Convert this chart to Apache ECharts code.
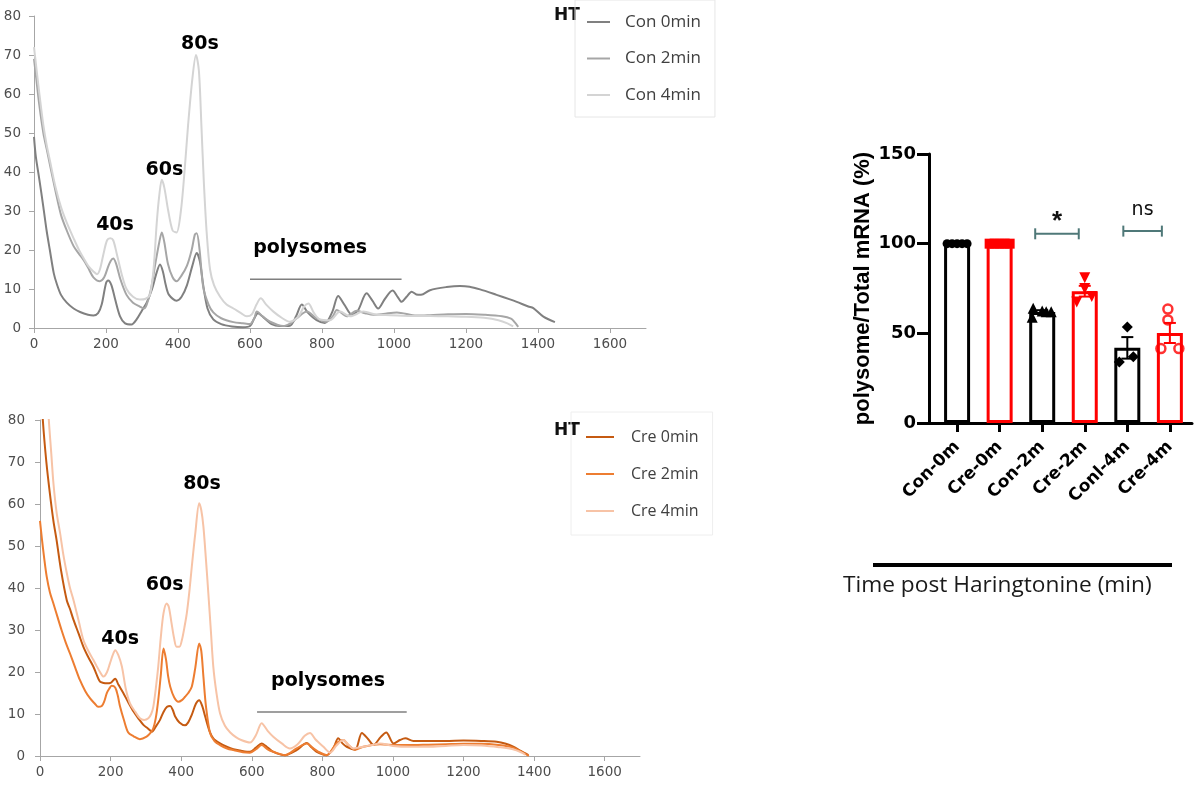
<!DOCTYPE html>
<html><head><meta charset="utf-8">
<script src="https://cdn.jsdelivr.net/npm/echarts@6/dist/echarts.min.js"></script>
<style>html,body{margin:0;padding:0;background:#fff}#c{width:1203px;height:788px}</style>
</head><body><div id="c"></div>
<script>
// ---------------- data ----------------
const conNames = ['Con 0min', 'Con 2min', 'Con 4min'];
const creNames = ['Cre 0min', 'Cre 2min', 'Cre 4min'];

const con0 = [[0,49],[5,44],[15,38],[26,31],[35,25],[44,20],[55,14],[63,11.4],[75,8.5],[91,6.5],[110,5],[128,4.1],[150,3.4],[165,3.2],[178,3.8],[188,6],[200,11.5],[206,12.2],[215,11],[225,7.5],[239,3],[253,1.2],[271,0.9],[285,2.2],[300,4.5],[313,6.5],[328,10],[340,14],[350,16.3],[358,14.5],[366,11],[375,8.5],[396,7],[410,8],[425,11],[440,16],[452,19.2],[461,17],[470,11],[482,5],[498,2.2],[520,1],[550,0.4],[580,0.2],[600,0.5],[612,2.5],[622,3.8],[640,2.5],[660,1],[683,0.5],[711,0.6],[728,3],[744,6],[760,4],[785,2],[808,1.3],[828,4],[845,8.2],[862,6],[883,3.4],[900,4.5],[924,8.9],[940,7],[956,5],[975,7.5],[996,9.6],[1010,8],[1021,6.7],[1035,8],[1049,9.3],[1062,8.6],[1075,8.5],[1100,9.7],[1146,10.5],[1183,10.8],[1210,10.6],[1239,9.9],[1285,8.5],[1320,7.4],[1341,6.7],[1373,5.5],[1387,5.1],[1415,2.9],[1447,1.5]];
const con2 = [[0,69],[5,65],[15,57],[26,50],[35,46],[44,42],[60,35],[75,29],[91,25],[110,21],[125,19],[137,17.5],[150,15.5],[165,13],[183,12],[195,13],[205,15.5],[213,17.2],[220,17.8],[228,16.5],[240,12.5],[257,8.5],[275,6.5],[294,5.5],[305,5],[313,6],[325,10],[338,17],[348,22],[355,24.5],[362,22],[372,16.5],[385,13],[396,12],[410,13.5],[425,16],[438,20],[447,24],[452,24.3],[460,20],[470,10.5],[485,6],[498,4],[520,2.5],[554,1.5],[580,1.2],[600,1],[612,2.5],[619,4.2],[635,3],[656,1.6],[692,0.5],[712,1.2],[730,2.5],[758,4.2],[785,2.5],[813,1.6],[830,3],[841,4.6],[855,3.8],[869,3],[896,4.4],[920,3.8],[943,3.4],[970,3.6],[1008,4],[1063,3.2],[1100,3.3],[1150,3.5],[1200,3.6],[1250,3.4],[1300,3],[1325,2.4],[1335,1.5],[1345,0.3]];
const con4 = [[0,72],[5,68],[15,60],[26,52],[35,47],[44,43],[60,36],[75,31],[91,27],[110,23],[125,20],[137,18],[150,16],[165,14.5],[175,13.8],[183,15],[193,19],[203,22.5],[212,23],[220,22.5],[230,19],[243,14],[257,10],[275,8],[294,7.3],[310,7.5],[322,8.5],[332,15],[341,27],[348,34],[355,38],[362,36],[373,30],[385,25],[396,24.5],[408,30],[418,40],[428,52],[440,64],[450,70],[458,66],[465,52],[472,37],[480,24],[489,15],[500,11],[517,8],[535,6],[554,5],[575,3.8],[591,3],[605,3.5],[618,6],[630,7.6],[645,6],[665,4.2],[690,2.5],[711,1.6],[735,3],[750,5.5],[762,6.3],[778,3.8],[794,2.2],[822,2],[850,4.2],[878,3],[915,4.2],[952,3.4],[990,3.3],[1050,3.1],[1100,3.1],[1150,3],[1200,2.9],[1250,2.6],[1290,2],[1315,1.2],[1331,0.4]];

const cre0 = [[0,92],[8,80],[18,70],[28,62.5],[38,56],[47,51.4],[60,44],[76,37],[85,35],[95,32.4],[110,29],[123,26],[137,23.5],[151,21.3],[160,19.5],[170,17.7],[180,17.4],[189,17.3],[200,17.4],[213,18.4],[222,17],[236,15],[250,12.8],[265,10.6],[280,8.8],[293,7.4],[305,6.6],[317,5.8],[328,7],[340,8.6],[350,10.5],[360,11.7],[369,11.9],[376,11],[383,9.4],[395,8],[411,7.3],[420,8],[430,9.8],[442,12.5],[451,13.3],[460,11.8],[468,9.4],[480,6],[491,4.2],[510,3],[529,2.2],[548,1.6],[567,1.3],[595,1],[612,2],[628,3],[645,2],[661,1],[694,0.2],[727,1.4],[756,3.1],[770,2],[784,1],[812,0.2],[831,1.8],[845,4.2],[857,3],[869,2.2],[893,1.5],[912,5.5],[930,4],[945,2.6],[965,4.5],[981,5.6],[1002,3],[1020,3.8],[1035,4.2],[1058,3.6],[1100,3.6],[1150,3.6],[1200,3.7],[1250,3.6],[1294,3.4],[1320,2.9],[1341,2.2],[1362,1.2],[1384,0.2]];
const cre2 = [[0,56],[5,52],[12,47],[19,42.7],[28,39],[38,36.3],[50,33],[61,30],[73,27],[85,24.4],[100,21],[113,18.1],[128,15.5],[142,13.7],[155,12.5],[165,11.7],[175,11.9],[182,13],[189,14.9],[196,16],[203,16.7],[213,16.3],[220,14.5],[227,11.7],[238,8.5],[250,5.6],[265,4.7],[283,4],[302,4.6],[313,5.5],[321,6.6],[328,9],[335,13.3],[342,19],[350,25.6],[357,23],[363,19],[369,16.5],[380,14],[392,12.9],[402,13.3],[411,14.1],[420,15],[430,16.5],[440,21],[451,26.8],[457,25],[463,18.9],[470,12],[482,5.4],[495,3.5],[510,2.6],[530,1.8],[548,1.4],[575,0.9],[595,0.8],[612,1.6],[628,2.6],[645,1.6],[661,1],[694,0.2],[727,1.8],[756,3],[772,2],[789,1],[812,0.2],[840,3],[859,3.8],[875,2.5],[893,1.5],[916,2.2],[963,2.8],[1010,2.6],[1060,2.6],[1100,2.7],[1150,2.8],[1200,2.9],[1250,2.9],[1300,2.6],[1340,2],[1365,1],[1385,0]];
const cre4 = [[0,110],[15,95],[25,80],[32,72],[38,65],[47,58],[57,53],[66,48],[76,43.5],[85,40],[95,37.1],[110,32],[123,27.6],[137,25],[151,22.9],[160,21.5],[170,20],[180,18.9],[190,20],[198,22],[206,24],[213,25.2],[222,24],[232,21.3],[243,16],[255,12.5],[270,10.5],[283,9],[295,8.6],[307,9],[315,10],[321,11.7],[328,16],[335,21.3],[342,28],[350,34],[359,36.3],[365,35.5],[372,32],[380,28],[387,26],[395,26],[402,27.6],[410,31],[416,34],[423,39],[430,45],[440,53],[451,60.2],[457,58.5],[463,54.6],[470,47],[477,38.7],[484,30],[491,21.3],[500,15],[510,10.2],[524,7.2],[539,5.6],[555,4.5],[570,3.8],[595,3.2],[612,5],[628,7.8],[645,6],[661,4.6],[685,3],[708,1.8],[730,2.8],[750,4.8],[765,5.5],[780,4],[803,2.2],[822,0.8],[840,2.5],[859,3.8],[875,2.6],[888,1.8],[916,2.2],[940,2.6],[963,3],[1000,2.4],[1050,2.2],[1100,2.2],[1150,2.4],[1200,2.6],[1250,2.5],[1300,2.1],[1340,1.6],[1365,0.8],[1375,0.3]];

const profileXTicks = [0, 200, 400, 600, 800, 1000, 1200, 1400, 1600];
const peakLabels = ['40s', '60s', '80s', 'polysomes'];
const conPeakPos = [[225, 26.4], [362, 40.5], [461, 72.7], [767, 20.5]];
const crePeakPos = [[227, 27.9], [353, 40.6], [459, 64.7], [816, 17.8]];
const conPolyRange = [[600, 12.5], [1021, 12.5]];
const crePolyRange = [[615, 10.5], [1039, 10.5]];

const categories = ['Con-0m', 'Cre-0m', 'Con-2m', 'Cre-2m', 'Conl-4m', 'Cre-4m'];
const barMeans = [100, 100, 61.9, 73.5, 41.9, 50.2];
const barSem = [0, 0, 1, 3, 6, 5.6];
const replicates = [
  [100, 100, 100, 100, 100],
  [100, 100, 100, 100, 100],
  [64, 62.5, 62, 62, 59],
  [81, 75, 70.5, 67.5],
  [53.5, 37, 34],
  [63.5, 57.5, 41.5, 41.5]
];
const sigTests = [[2, 3, 105.5, '*'], [4, 5, 107, 'ns']];

// ---------------- styles ----------------
const conColors = ['#808080', '#a6a6a6', '#d4d4d4'];
const creColors = ['#c55a11', '#ed7d31', '#f7c3a6'];
const groupColors = ['#000000', '#ff0000', '#000000', '#ff0000', '#000000', '#ff0000'];
const groupSymbols = ['circle', 'rect', 'triangle', 'triangle', 'diamond', 'circle'];
const groupRot = [0, 0, 0, 180, 0, 0];
const groupSize = [9, 10, 11, 11, 11, 9];
const jitter = [[-10, -5, 0, 5, 10], [-10, -5, 0, 5, 10], [-9, 0, 9, 4, -10], [0, 0, 7, -8], [0, 6, -8], [-2, -2, -9, 9]];
const sigOffsets = [[-7, -6], [-4, -8]];
const axisGray = '#a6a6a6';
const labelGray = '#4d4d4d';

const chart = echarts.init(document.getElementById('c'), null, {renderer: 'canvas'});

function profileX(idx) {
  return {
    type: 'value', gridIndex: idx, min: 0, max: 1700,
    axisLine: {show: true, lineStyle: {color: axisGray, width: 1}},
    axisTick: {show: true, length: 5, lineStyle: {color: axisGray}, customValues: profileXTicks},
    axisLabel: {color: labelGray, fontFamily: 'DejaVu Sans', fontSize: 13.5, margin: 9,
      customValues: profileXTicks, formatter: v => String(v)},
    splitLine: {show: false}
  };
}
function profileY(idx, margin) {
  return {
    type: 'value', gridIndex: idx, min: 0, max: 80, interval: 10,
    axisLine: {show: true, onZero: false, lineStyle: {color: axisGray, width: 1}},
    axisTick: {show: true, length: 5, lineStyle: {color: axisGray}},
    axisLabel: {color: labelGray, fontFamily: 'DejaVu Sans', fontSize: 13.5, margin: margin},
    splitLine: {show: false}
  };
}
function curve(name, data, color, xi) {
  return {
    name: name, type: 'line', xAxisIndex: xi, yAxisIndex: xi, data: data,
    color: color, symbol: 'none', smooth: 0.3, clip: true,
    lineStyle: {color: color, width: 2}, z: 3, silent: true
  };
}
function annotations(pos, xi) {
  return {
    type: 'custom', xAxisIndex: xi, yAxisIndex: xi, silent: true, z: 5,
    data: pos.map((p, i) => [p[0], p[1], i]),
    renderItem: function (params, api) {
      const pt = api.coord([api.value(0), api.value(1)]);
      return {type: 'text', x: pt[0], y: pt[1],
        style: {text: peakLabels[params.dataIndex], align: 'center', verticalAlign: 'middle',
          fill: '#000', font: 'bold 19px "DejaVu Sans"'}};
    }
  };
}
function polyBar(range, xi) {
  return {type: 'line', xAxisIndex: xi, yAxisIndex: xi, data: range, symbol: 'none', silent: true,
    lineStyle: {color: '#7f7f7f', width: 1.5}, z: 4};
}

const series = [];
conNames.forEach((n, i) => series.push(curve(n, [con0, con2, con4][i], conColors[i], 0)));
creNames.forEach((n, i) => series.push(curve(n, [cre0, cre2, cre4][i], creColors[i], 1)));
series.push(annotations(conPeakPos, 0), annotations(crePeakPos, 1));
series.push(polyBar(conPolyRange, 0), polyBar(crePolyRange, 1));

// bars
series.push({
  type: 'bar', xAxisIndex: 2, yAxisIndex: 2, barWidth: 26, silent: true, z: 2,
  data: barMeans.map((m, i) => ({value: [i, m], itemStyle: {color: 'rgba(255,255,255,0)', borderColor: groupColors[i], borderWidth: 3}}))
});
// error bars
series.push({
  type: 'custom', xAxisIndex: 2, yAxisIndex: 2, silent: true, z: 3,
  data: barMeans.map((m, i) => [i, m, barSem[i]]),
  renderItem: function (params, api) {
    const i = api.value(0), m = api.value(1), s = api.value(2);
    if (!s) return null;
    const t = api.coord([i, m + s]), b = api.coord([i, m - s]);
    const c = groupColors[params.dataIndex];
    const st = {stroke: c, lineWidth: 2};
    return {type: 'group', children: [
      {type: 'line', shape: {x1: t[0], y1: t[1], x2: b[0], y2: b[1]}, style: st},
      {type: 'line', shape: {x1: t[0] - 6, y1: t[1], x2: t[0] + 6, y2: t[1]}, style: st},
      {type: 'line', shape: {x1: b[0] - 6, y1: b[1], x2: b[0] + 6, y2: b[1]}, style: st}
    ]};
  }
});
// replicate points
replicates.forEach((vals, g) => {
  const hollow = g === 5;
  series.push({
    type: 'scatter', xAxisIndex: 2, yAxisIndex: 2, silent: true, z: 4,
    symbol: groupSymbols[g], symbolSize: groupSize[g], symbolRotate: groupRot[g],
    itemStyle: hollow ? {color: 'rgba(255,255,255,0)', borderColor: groupColors[g], borderWidth: 2.5}
                      : {color: groupColors[g], opacity: 1},
    data: vals.map((v, j) => ({value: [g, v], symbolOffset: [jitter[g][j] || 0, 0]}))
  });
});
// significance brackets
series.push({
  type: 'custom', xAxisIndex: 2, yAxisIndex: 2, silent: true, z: 5,
  data: sigTests,
  renderItem: function (params, api) {
    const k = params.dataIndex;
    const a = api.coord([api.value(0), api.value(2)]);
    const b = api.coord([api.value(1), api.value(2)]);
    const x1 = a[0] + sigOffsets[k][0], x2 = b[0] + sigOffsets[k][1], y = a[1];
    const st = {stroke: '#4f7878', lineWidth: 2};
    const label = sigTests[k][3];
    const star = label === '*';
    return {type: 'group', children: [
      {type: 'line', shape: {x1: x1, y1: y, x2: x2, y2: y}, style: st},
      {type: 'line', shape: {x1: x1, y1: y - 5.5, x2: x1, y2: y + 5.5}, style: st},
      {type: 'line', shape: {x1: x2, y1: y - 5.5, x2: x2, y2: y + 5.5}, style: st},
      {type: 'text', x: (x1 + x2) / 2, y: star ? y - 12 : y - 21,
        style: {text: label, align: 'center', verticalAlign: 'middle', fill: '#111',
          font: star ? 'bold 26px "Liberation Sans"' : '19px "DejaVu Sans"'}}
    ]};
  }
});

const option = {
  animation: false,
  backgroundColor: '#ffffff',
  grid: [
    {left: 34, top: 16, width: 612, height: 312},
    {left: 40, top: 420, width: 600, height: 336},
    {left: 929, top: 154, width: 263, height: 269}
  ],
  xAxis: [
    profileX(0), profileX(1),
    {
      type: 'value', gridIndex: 2, min: -0.66, max: 5.52,
      axisLine: {show: true, onZero: false, lineStyle: {color: '#000', width: 3}},
      axisTick: {show: true, length: 9, lineStyle: {color: '#000', width: 3}, customValues: [0, 1, 2, 3, 4, 5]},
      axisLabel: {customValues: [0, 1, 2, 3, 4, 5], formatter: v => categories[Math.round(v)],
        rotate: 45, margin: 21, color: '#000', fontFamily: 'DejaVu Sans', fontWeight: 'bold', fontSize: 17},
      splitLine: {show: false}
    }
  ],
  yAxis: [
    profileY(0, 13), profileY(1, 15),
    {
      type: 'value', gridIndex: 2, min: 0, max: 150, interval: 50,
      name: 'polysome/Total mRNA (%)', nameLocation: 'middle', nameGap: 55, nameRotate: 90,
      nameTextStyle: {fontFamily: 'Liberation Sans', fontWeight: 'bold', fontSize: 22, color: '#000'},
      axisLine: {show: true, onZero: false, lineStyle: {color: '#000', width: 3}},
      axisTick: {show: true, length: 12, lineStyle: {color: '#000', width: 3}},
      axisLabel: {color: '#000', fontFamily: 'DejaVu Sans', fontWeight: 'bold', fontSize: 18, margin: 13},
      splitLine: {show: false}
    }
  ],
  legend: [
    {
      data: conNames.map(n => ({name: n, icon: 'rect'})), orient: 'vertical', left: 575, top: 0,
      itemWidth: 23, itemHeight: 2, itemGap: 16.5, padding: [12, 14, 12, 12],
      borderColor: '#e6e6e6', borderWidth: 1, selectedMode: false,
      textStyle: {fontFamily: 'Open Sans', fontSize: 17, color: '#404040', lineHeight: 20, padding: [0, 0, 0, 10]}
    },
    {
      data: creNames.map(n => ({name: n, icon: 'rect'})), orient: 'vertical', left: 571, top: 412,
      itemWidth: 28, itemHeight: 2, itemGap: 17, padding: [15, 14, 14, 15],
      borderColor: '#eeeeee', borderWidth: 1, selectedMode: false,
      textStyle: {fontFamily: 'Open Sans', fontSize: 16, color: '#404040', lineHeight: 20, padding: [0, 0, 0, 12]}
    }
  ],
  graphic: [
    {type: 'text', left: 554, top: 7, style: {text: 'HT', font: 'bold 17px "DejaVu Sans"', fill: '#111'}},
    {type: 'text', left: 554, top: 422, style: {text: 'HT', font: 'bold 17px "DejaVu Sans"', fill: '#111'}},
    {type: 'line', shape: {x1: 873, y1: 565, x2: 1172, y2: 565}, style: {stroke: '#000', lineWidth: 4}},
    {type: 'text', left: 843, top: 574, style: {text: 'Time post Haringtonine (min)', font: '22.7px "Open Sans"', fill: '#1a1a1a'}}
  ],
  series: series
};
chart.setOption(option);
</script>
</body></html>
